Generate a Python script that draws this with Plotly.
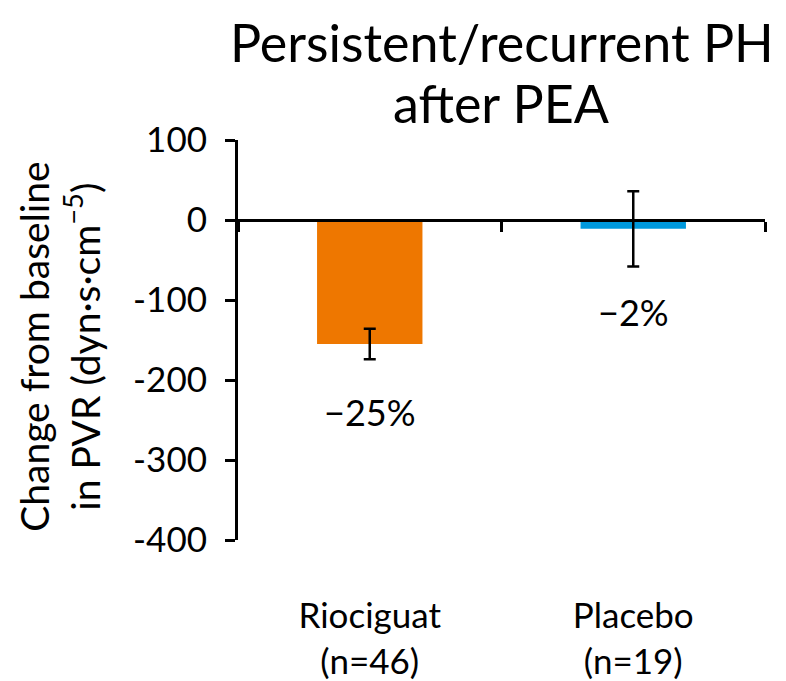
import plotly.graph_objects as go

# Change from baseline in PVR, persistent/recurrent PH after PEA
categories = ["Riociguat<br>(n=46)", "Placebo<br>(n=19)"]
mean_change = [-155, -11]
error_sd = [19, 47]
pct_labels = ["\u221225%", "\u22122%"]
pct_label_y = [-240, -115]
bar_colors = ["#EE7700", "#0099DD"]

y_ticks = [100, 0, -100, -200, -300, -400]
y_tick_text = ["100", "0", "-100", "-200", "-300", "-400"]

FONT = "Lato"
fig = go.Figure()

fig.add_trace(go.Bar(
    x=categories,
    y=mean_change,
    marker=dict(color=bar_colors, line=dict(width=0)),
    width=0.4,
    error_y=dict(type="data", array=error_sd, visible=True,
                 color="black", thickness=2.5, width=6),
    showlegend=False,
    xaxis="x",
    yaxis="y",
))

# invisible companion trace so the zero-line axis gets its categories
fig.add_trace(go.Scatter(
    x=categories, y=[None, None], mode="markers",
    showlegend=False, hoverinfo="skip", xaxis="x2", yaxis="y",
))

for cat, txt, ypos in zip(categories, pct_labels, pct_label_y):
    fig.add_annotation(x=cat, y=ypos, text=txt, showarrow=False,
                       xref="x", yref="y",
                       font=dict(family=FONT, size=36, color="black"))

for txt, ypos in [("Persistent/recurrent PH", 1.245), ("after PEA", 1.0925)]:
    fig.add_annotation(
        x=0.5, xref="paper", y=ypos, yref="paper",
        text=txt, showarrow=False, yanchor="middle", xanchor="center",
        font=dict(family=FONT, size=52, color="black"),
    )

fig.add_annotation(
    x=-0.34, xref="paper", y=0.4825, yref="paper",
    xanchor="center", yanchor="middle",
    text="Change from baseline<br>in PVR (dyn\u00b7s\u00b7cm<sup>\u22125</sup>)",
    textangle=-90, showarrow=False,
    font=dict(family=FONT, size=39, color="black"),
)

fig.update_layout(
    width=786, height=681,
    margin=dict(l=238, r=21, t=140, b=141, autoexpand=False),
    paper_bgcolor="white", plot_bgcolor="white",
    font=dict(family=FONT, size=35, color="black"),
    xaxis=dict(
        type="category", showline=False, ticks="", showgrid=False,
        zeroline=False, tickfont=dict(size=35), ticklabelstandoff=52,
        automargin=False,
    ),
    xaxis2=dict(
        type="category", overlaying="x", anchor="free", position=0.8,
        side="bottom", showline=True, linecolor="black", linewidth=3,
        ticks="outside", tickson="boundaries", ticklen=10, tickwidth=3,
        tickcolor="black", showticklabels=False, showgrid=False,
        matches="x", automargin=False,
    ),
    yaxis=dict(
        range=[-400, 100], tickvals=y_ticks, ticktext=y_tick_text,
        showline=True, linecolor="black", linewidth=3, ticks="outside",
        ticklen=10, tickwidth=3, tickcolor="black", showgrid=False,
        zeroline=False, tickfont=dict(size=35), ticklabelstandoff=11,
        automargin=False,
    ),
)

fig.write_html("out.html")
